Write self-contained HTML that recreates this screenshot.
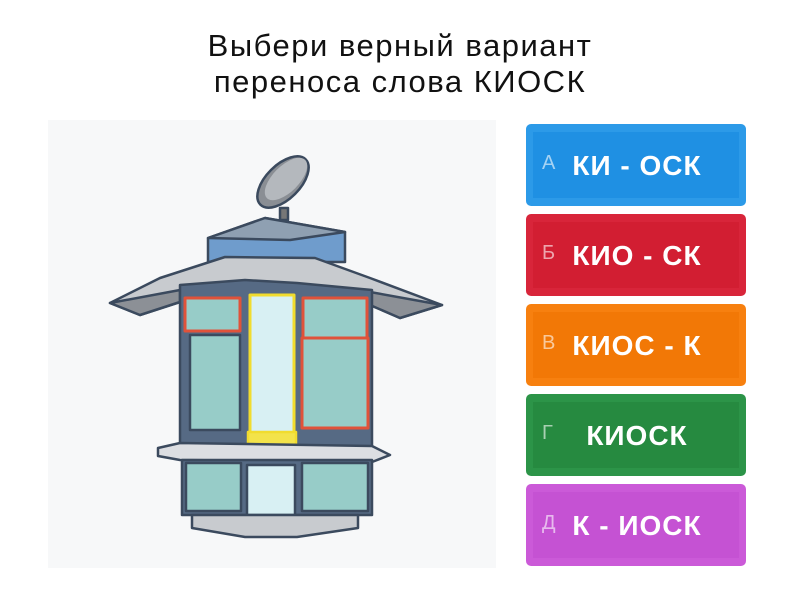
<!DOCTYPE html>
<html><head><meta charset="utf-8"><style>
body{margin:0;width:800px;height:600px;background:#fff;font-family:"Liberation Sans","DejaVu Sans",sans-serif;position:relative;overflow:hidden}
.t{position:absolute;left:0;width:800px;top:28px;text-align:center;font-size:31px;line-height:36px;letter-spacing:1.5px;color:#111}
.img{position:absolute;left:48px;top:120px;width:448px;height:448px;background:#f7f8f9}
.b{position:absolute;left:526px;width:220px;height:82px;border-radius:5px;color:#fff;box-sizing:border-box}
.b .in{position:absolute;left:7px;right:7px;top:8px;bottom:8px}
.b .l{position:absolute;left:16px;top:28px;font-size:20px;opacity:.6}
.b .w{position:absolute;left:2px;right:0;top:26px;text-align:center;font-weight:bold;font-size:28px;letter-spacing:1px}
</style></head><body>
<div class="t">Выбери верный вариант<br>переноса слова КИОСК</div>
<div class="img"></div>
<svg style="position:absolute;left:0;top:0" width="800" height="600">
<g stroke="#3b4a5e" stroke-width="2.5" stroke-linejoin="round">
<ellipse cx="283" cy="182" rx="32" ry="17" transform="rotate(-45 283 182)" fill="#8a8e94"/>
<ellipse cx="286" cy="179" rx="27" ry="13" transform="rotate(-45 286 179)" fill="#b4b8bd" stroke="none"/>
<rect x="280" y="208" width="8" height="12" fill="#777"/>
<polygon points="208,238 265,218 345,232 345,262 208,262" fill="#6f9ccc"/>
<polygon points="208,238 265,218 345,232 290,240" fill="#8fa0b2"/>
<polygon points="110,303 160,278 225,257 315,258 370,278 442,305 400,318 370,305 180,302 140,315" fill="#c8cbcf"/>
<polygon points="110,303 180,290 180,302 140,315" fill="#8c9096"/>
<polygon points="370,292 442,305 400,318 370,305" fill="#8c9096"/>
<polygon points="180,285 245,280 297,283 372,290 372,448 297,450 245,450 180,446" fill="#566a84"/>
<rect x="190" y="335" width="50" height="95" fill="#97ccc8"/>
<rect x="250" y="295" width="44" height="158" fill="#d8f0f3" stroke="#f1dc2e" stroke-width="3"/>
<rect x="248" y="432" width="48" height="20" fill="#f3e34a" stroke="#f1dc2e"/>
<rect x="303" y="298" width="64" height="40" fill="#97ccc8" stroke="#e0523a" stroke-width="3"/>
<rect x="302" y="338" width="66" height="90" fill="#97ccc8" stroke="#e0523a" stroke-width="3"/>
<rect x="185" y="298" width="55" height="33" fill="#97ccc8" stroke="#e0523a" stroke-width="3"/>
<polygon points="158,448 180,443 372,446 390,455 372,462 180,460 158,456" fill="#dcdee2"/>
<rect x="182" y="460" width="190" height="55" fill="#566a84"/>
<rect x="186" y="463" width="55" height="48" fill="#97ccc8"/>
<rect x="247" y="465" width="48" height="50" fill="#d8f0f3"/>
<rect x="302" y="463" width="66" height="48" fill="#97ccc8"/>
<polygon points="192,515 358,515 358,528 297,537 245,537 192,528" fill="#c8cbcf"/>
</g>
</svg>
<div class="b" style="top:124px;background:#2c9ae8"><div class="in" style="background:#1f90e3"></div><span class="l">А</span><span class="w">КИ - ОСК</span></div>
<div class="b" style="top:214px;background:#d8253a"><div class="in" style="background:#d21e32"></div><span class="l">Б</span><span class="w">КИО - СК</span></div>
<div class="b" style="top:304px;background:#f7800f"><div class="in" style="background:#f27806"></div><span class="l">В</span><span class="w">КИОС - К</span></div>
<div class="b" style="top:394px;background:#2c9448"><div class="in" style="background:#268a40"></div><span class="l">Г</span><span class="w">КИОСК</span></div>
<div class="b" style="top:484px;background:#cb5ad8"><div class="in" style="background:#c552d3"></div><span class="l">Д</span><span class="w">К - ИОСК</span></div>
</body></html>
